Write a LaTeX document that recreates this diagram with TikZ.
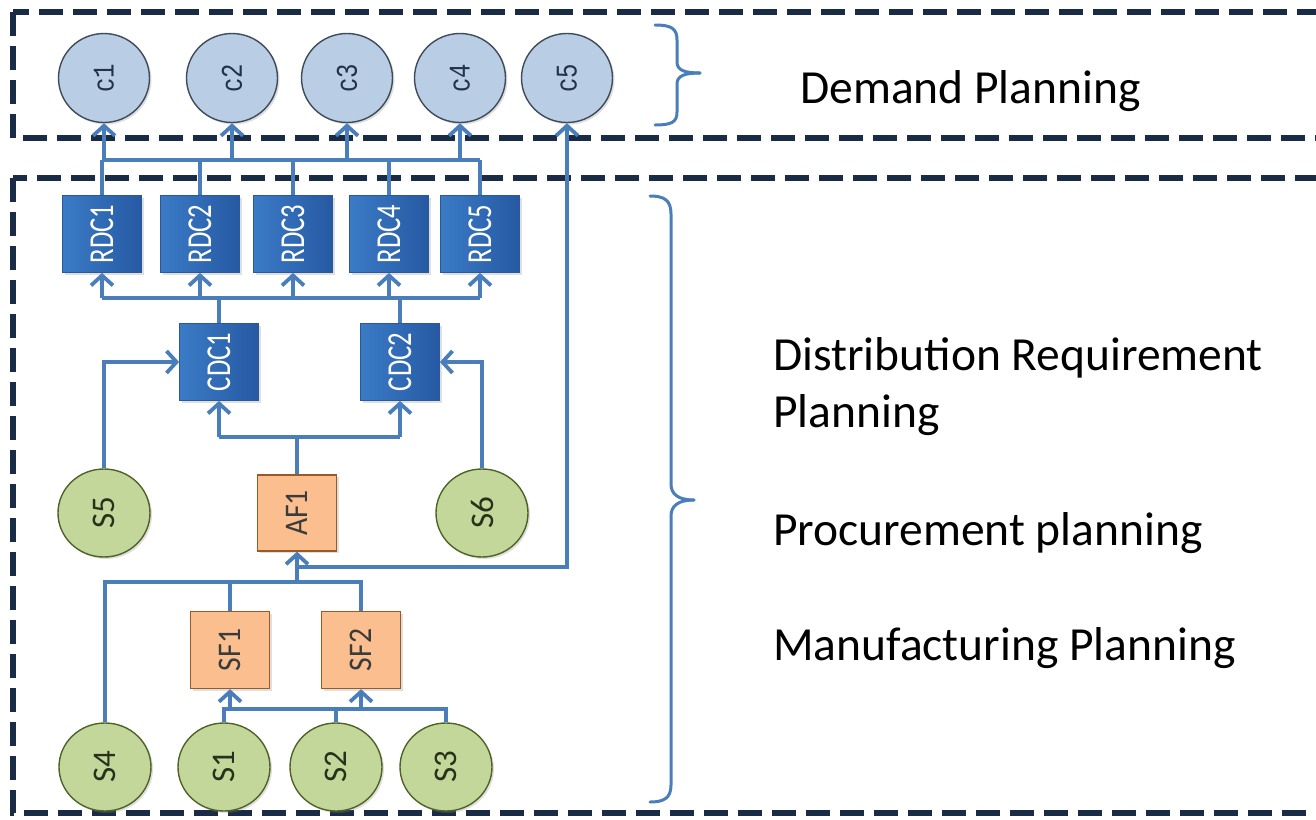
\documentclass[tikz,border=0pt]{standalone}
\usepackage{fontspec}
\usepackage{graphicx}
\setmainfont{Carlito}
\newfontfamily\condfont{Carlito}[FakeStretch=0.76]
\newfontfamily\afont{Carlito}[FakeStretch=0.9]
\newfontfamily\cfont{Liberation Mono}[FakeStretch=0.8]
\usetikzlibrary{arrows.meta,shadows,shapes.geometric}
\definecolor{dashcol}{HTML}{1A2B45}
\definecolor{conncol}{HTML}{4A7EBB}
\definecolor{cfill}{HTML}{B9CDE5}
\definecolor{cdraw}{HTML}{3F4B5B}
\definecolor{ctext}{HTML}{22324A}
\definecolor{rdcL}{HTML}{3B7BC6}
\definecolor{rdcR}{HTML}{2659A3}
\definecolor{rdcdraw}{HTML}{2A5A96}
\definecolor{orfill}{HTML}{FBBE8E}
\definecolor{ordraw}{HTML}{9A5A25}
\definecolor{gfill}{HTML}{C4D79B}
\definecolor{gdraw}{HTML}{4F6228}
\definecolor{gtext}{HTML}{26321A}
\definecolor{otext}{HTML}{3B3B3B}
\tikzset{
  shad/.style={drop shadow={opacity=0.25,shadow xshift=2pt,shadow yshift=-2pt}},
  cnode/.style={ellipse,draw=cdraw,line width=1.4pt,fill=cfill,minimum width=91pt,minimum height=89pt,inner sep=0pt,text=ctext,font=\cfont\fontsize{30}{32}\selectfont,shad},
  gnode/.style={ellipse,draw=gdraw,line width=1.4pt,fill=gfill,minimum width=92pt,minimum height=88pt,inner sep=0pt,text=gtext,font=\fontsize{33}{35}\selectfont,shad},
  bluebox/.style={rectangle,draw=rdcdraw,line width=0.8pt,left color=rdcL,right color=rdcR,minimum width=79pt,minimum height=77pt,inner sep=0pt,text=white,font=\condfont\fontsize{35}{37}\selectfont,shad},
  orbox/.style={rectangle,draw=ordraw,line width=1.3pt,fill=orfill,minimum width=79pt,minimum height=77pt,inner sep=0pt,text=otext,font=\afont\fontsize{33}{35}\selectfont,shad},
  conn/.style={draw=conncol,line width=4.3pt},
  arr/.style={conn,-{Straight Barb[length=10pt,width=22pt,line width=3.8pt]}},
  dbox/.style={draw=dashcol,line width=5.5pt,dash pattern=on 24pt off 10pt},
  brace/.style={draw=conncol,line width=3pt,line cap=round},
  lab/.style={anchor=base west,inner sep=0pt,font=\fontsize{47.5}{50}\selectfont,text=black}
}
\begin{document}
\begin{tikzpicture}[x=1pt,y=-1pt]
\useasboundingbox (0,0) rectangle (1316,819);
\clip (0,0) rectangle (1316,819);
% dashed frames
\draw[dbox] (13,12) rectangle (1340,138);
\draw[dbox] (13,178) rectangle (1340,813);
% braces
\draw[brace] (655,25) .. controls (672,25) and (677,29) .. (677,40) -- (677,62) .. controls (677,70) and (684,73) .. (700,73);
\draw[brace] (700,73) .. controls (684,73) and (677,76) .. (677,84) -- (677,112) .. controls (677,122) and (672,125) .. (655,125);
\draw[brace] (650,196) .. controls (664,196) and (671,200) .. (671,214) -- (671,484) .. controls (671,494) and (678,500) .. (694,500);
\draw[brace] (694,500) .. controls (678,500) and (671,506) .. (671,516) -- (671,785) .. controls (671,798) and (664,802) .. (650,802);
% labels
\node[lab] (dp) at (800,103) {Demand Planning};
\node[lab] (drp1) at (773,370) {Distribution Requirement};
\node[lab] (drp2) at (773,427) {Planning};
\node[lab] (pp) at (773,545) {Procurement planning};
\node[lab] (mp) at (773,660) {Manufacturing Planning};
% customers
\node[cnode] (c1) at (104,78) {\rotatebox{90}{c1}};
\node[cnode] (c2) at (232,78) {\rotatebox{90}{c2}};
\node[cnode] (c3) at (347,78) {\rotatebox{90}{c3}};
\node[cnode] (c4) at (460,78) {\rotatebox{90}{c4}};
\node[cnode] (c5) at (567,78) {\rotatebox{90}{c5}};
% RDCs
\node[bluebox] (r1) at (102,234) {\rotatebox{90}{RDC1}};
\node[bluebox] (r2) at (200,234) {\rotatebox{90}{RDC2}};
\node[bluebox] (r3) at (293,234) {\rotatebox{90}{RDC3}};
\node[bluebox] (r4) at (389,234) {\rotatebox{90}{RDC4}};
\node[bluebox] (r5) at (480,234) {\rotatebox{90}{RDC5}};
% CDCs
\node[bluebox] (cd1) at (219,362) {\rotatebox{90}{CDC1}};
\node[bluebox] (cd2) at (400,362) {\rotatebox{90}{CDC2}};
% suppliers and factories
\node[gnode] (s5) at (104,513) {\rotatebox{90}{S5}};
\node[gnode] (s6) at (482,513) {\rotatebox{90}{S6}};
\node[orbox,minimum height=76pt] (af1) at (297,513) {\rotatebox{90}{AF1}};
\node[orbox] (sf1) at (230,650) {\rotatebox{90}{SF1}};
\node[orbox] (sf2) at (361,650) {\rotatebox{90}{SF2}};
\node[gnode] (s4) at (105,767) {\rotatebox{90}{S4}};
\node[gnode] (s1) at (224,767) {\rotatebox{90}{S1}};
\node[gnode] (s2) at (336,767) {\rotatebox{90}{S2}};
\node[gnode] (s3) at (446,767) {\rotatebox{90}{S3}};
% coordinates for buses
\coordinate (ybusC) at (0,160);
\coordinate (ybusR) at (0,298);
\coordinate (ybusA) at (0,437);
\coordinate (yret) at (0,567);
\coordinate (ybusF) at (0,582);
\coordinate (ybusS) at (0,709);
% RDC -> customers
\foreach \r in {r1,r2,r3,r4,r5} \draw[conn] (\r.north) -- (\r.north |- ybusC);
\draw[conn] (r1.north |- ybusC) -- (r5.north |- ybusC);
\foreach \c in {c1,c2,c3,c4} \draw[arr] (\c.south |- ybusC) -- (\c.south);
% CDC -> RDC
\draw[conn] (cd1.north) -- (cd1.north |- ybusR);
\draw[conn] (cd2.north) -- (cd2.north |- ybusR);
\draw[conn] (r1.south |- ybusR) -- (r5.south |- ybusR);
\foreach \r in {r1,r2,r3,r4,r5} \draw[arr] (\r.south |- ybusR) -- (\r.south);
% S5, S6 -> CDC
\draw[arr] (s5.north) |- (cd1.west);
\draw[arr] (s6.north) |- (cd2.east);
% AF1 -> CDC
\draw[conn] (af1.north) -- (af1.north |- ybusA);
\draw[conn] (cd1.south |- ybusA) -- (cd2.south |- ybusA);
\draw[arr] (cd1.south |- ybusA) -- (cd1.south);
\draw[arr] (cd2.south |- ybusA) -- (cd2.south);
% return line to c5
\draw[arr] (af1.south |- yret) -| (c5.south);
% S4, SF1, SF2 -> AF1
\draw[conn] (s4.north) -- (s4.north |- ybusF) -- (sf2.north |- ybusF) -- (sf2.north);
\draw[conn] (sf1.north) -- (sf1.north |- ybusF);
\draw[arr] (af1.south |- ybusF) -- (af1.south);
% S1, S2, S3 -> SF1, SF2
\draw[conn] (s1.north) -- (s1.north |- ybusS) -- (s3.north |- ybusS) -- (s3.north);
\draw[conn] (s2.north) -- (s2.north |- ybusS);
\draw[arr] (sf1.south |- ybusS) -- (sf1.south);
\draw[arr] (sf2.south |- ybusS) -- (sf2.south);
\end{tikzpicture}
\end{document}
